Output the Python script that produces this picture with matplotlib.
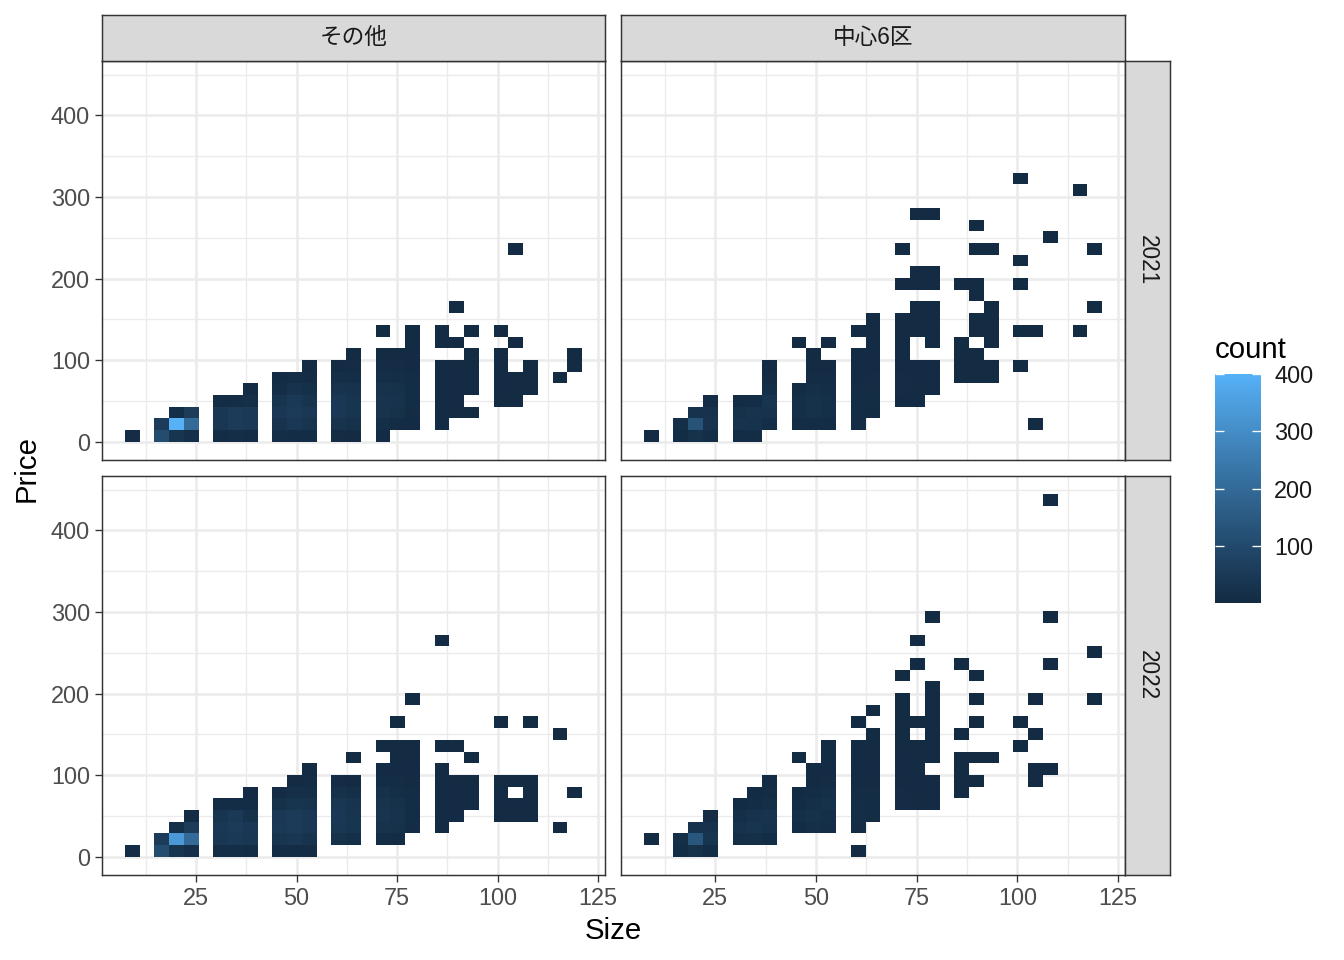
import numpy as np
import matplotlib
matplotlib.use("Agg")
import matplotlib.pyplot as plt
from matplotlib.colors import ListedColormap, Normalize, to_rgb

plt.rcParams['font.family'] = ['Liberation Sans', 'Noto Sans CJK JP', 'DejaVu Sans']

# ---------------- data ----------------
SIZE_RANGE = (10, 120)     # range of Size in the data
PRICE_RANGE = (10, 440)    # range of Price in the data
N_BINS = 30                # ggplot geom_bin2d default
COUNT_RANGE = (1, 400)

areas = ['その他', '中心6区']
years = ['2021', '2022']
x_ticks = [25, 50, 75, 100, 125]
y_ticks = [0, 100, 200, 300, 400]
count_ticks = [100, 200, 300, 400]

# tile counts: {Size bin index: [(Price bin index, count), ...]}
counts_other_2021 = {
    0: [(0, 6)],
    2: [(0, 110), (1, 60)],
    3: [(0, 35), (1, 400), (2, 12)],
    4: [(0, 15), (1, 200), (2, 60)],
    6: [(0, 10), (1, 40), (2, 40), (3, 6)],
    7: [(0, 12), (1, 55), (2, 55), (3, 10)],
    8: [(0, 10), (1, 50), (2, 50), (3, 15), (4, 3)],
    10: [(0, 12), (1, 30), (2, 45), (3, 35), (4, 12), (5, 4)],
    11: [(0, 10), (1, 45), (2, 55), (3, 50), (4, 25), (5, 6)],
    12: [(0, 10), (1, 35), (2, 45), (3, 35), (4, 18), (5, 8), (6, 3)],
    14: [(0, 8), (1, 30), (2, 45), (3, 45), (4, 30), (5, 15), (6, 5)],
    15: [(0, 5), (1, 20), (2, 35), (3, 35), (4, 25), (5, 12), (6, 6), (7, 2)],
    17: [(0, 3), (1, 15), (2, 30), (3, 30), (4, 25), (5, 15), (6, 6), (7, 2), (9, 1)],
    18: [(1, 8), (2, 20), (3, 25), (4, 20), (5, 12), (6, 6), (7, 2)],
    19: [(1, 4), (2, 8), (3, 10), (4, 10), (5, 8), (6, 4), (7, 3), (8, 1), (9, 1)],
    21: [(1, 2), (2, 3), (3, 4), (4, 5), (5, 4), (6, 3), (8, 1), (9, 1)],
    22: [(2, 2), (3, 3), (4, 4), (5, 3), (6, 2), (8, 1), (11, 1)],
    23: [(2, 1), (4, 3), (5, 3), (6, 2), (7, 2), (9, 1)],
    25: [(3, 2), (4, 3), (5, 3), (6, 2), (7, 1), (9, 1)],
    26: [(3, 1), (4, 2), (5, 2), (8, 1), (16, 1)],
    27: [(4, 1), (5, 2), (6, 1)],
    29: [(5, 1)],
    30: [(6, 1), (7, 1)],
}

counts_center_2021 = {
    0: [(0, 2)],
    2: [(0, 10), (1, 15)],
    3: [(0, 20), (1, 130), (2, 25)],
    4: [(0, 12), (1, 30), (2, 25), (3, 6)],
    6: [(0, 10), (1, 30), (2, 20), (3, 8)],
    7: [(0, 10), (1, 25), (2, 30), (3, 10)],
    8: [(1, 12), (2, 25), (3, 35), (4, 15), (5, 8), (6, 3)],
    10: [(1, 8), (2, 15), (3, 15), (4, 8), (8, 1)],
    11: [(1, 10), (2, 20), (3, 20), (4, 15), (5, 8), (6, 4), (7, 2)],
    12: [(1, 8), (2, 15), (3, 15), (4, 12), (5, 6), (6, 2), (8, 1)],
    14: [(1, 6), (2, 10), (3, 10), (4, 8), (5, 5), (6, 3), (7, 2), (9, 1)],
    15: [(2, 5), (3, 8), (4, 8), (5, 6), (6, 4), (7, 3), (8, 2), (9, 1), (10, 1)],
    17: [(3, 4), (4, 6), (5, 6), (6, 4), (7, 3), (8, 2), (9, 2), (10, 1), (13, 1), (16, 1)],
    18: [(3, 3), (4, 5), (5, 4), (6, 3), (9, 2), (10, 1), (11, 1), (13, 1), (14, 1), (19, 1)],
    19: [(4, 3), (5, 3), (6, 2), (8, 1), (9, 2), (10, 1), (11, 1), (13, 1), (14, 1), (19, 1)],
    21: [(5, 2), (6, 2), (7, 1), (8, 1), (13, 1)],
    22: [(5, 2), (6, 2), (7, 1), (9, 1), (10, 1), (12, 1), (13, 1), (16, 1), (18, 1)],
    23: [(5, 1), (6, 1), (8, 1), (9, 1), (10, 1), (11, 1), (16, 1)],
    25: [(6, 1), (9, 1), (13, 1), (15, 1), (22, 1)],
    26: [(1, 1), (9, 1)],
    27: [(17, 1)],
    29: [(9, 1), (21, 1)],
    30: [(11, 1), (16, 1)],
}

counts_other_2022 = {
    0: [(0, 6)],
    2: [(0, 110), (1, 60)],
    3: [(0, 35), (1, 330), (2, 15)],
    4: [(0, 15), (1, 200), (2, 60), (3, 5)],
    6: [(0, 12), (1, 40), (2, 45), (3, 35), (4, 6)],
    7: [(0, 12), (1, 50), (2, 55), (3, 50), (4, 10)],
    8: [(0, 10), (1, 40), (2, 45), (3, 20), (4, 10), (5, 3)],
    10: [(0, 10), (1, 35), (2, 50), (3, 45), (4, 20), (5, 6)],
    11: [(0, 10), (1, 40), (2, 55), (3, 55), (4, 35), (5, 15), (6, 5)],
    12: [(0, 8), (1, 30), (2, 45), (3, 45), (4, 30), (5, 15), (6, 6), (7, 2)],
    14: [(1, 20), (2, 40), (3, 45), (4, 40), (5, 20), (6, 6)],
    15: [(1, 15), (2, 35), (3, 35), (4, 30), (5, 15), (6, 5), (8, 1)],
    17: [(1, 10), (2, 25), (3, 35), (4, 30), (5, 20), (6, 10), (7, 4), (9, 2)],
    18: [(1, 6), (2, 20), (3, 25), (4, 20), (5, 12), (6, 6), (7, 3), (8, 2), (9, 1), (11, 1)],
    19: [(2, 6), (3, 10), (4, 10), (5, 8), (6, 5), (7, 3), (8, 2), (9, 1), (13, 1)],
    21: [(2, 2), (3, 4), (4, 5), (5, 4), (6, 3), (7, 2), (9, 1), (18, 1)],
    22: [(3, 3), (4, 4), (5, 3), (6, 2), (9, 1)],
    23: [(4, 3), (5, 3), (6, 2), (8, 1)],
    25: [(3, 2), (4, 3), (5, 3), (6, 2), (11, 1)],
    26: [(3, 2), (4, 2), (6, 2)],
    27: [(3, 2), (4, 3), (5, 2), (6, 1), (11, 1)],
    29: [(2, 1), (10, 1)],
    30: [(5, 1)],
}

counts_center_2022 = {
    0: [(1, 2)],
    2: [(0, 10), (1, 15)],
    3: [(0, 20), (1, 140), (2, 25)],
    4: [(0, 10), (1, 35), (2, 25), (3, 8)],
    6: [(1, 15), (2, 25), (3, 15), (4, 5)],
    7: [(1, 15), (2, 35), (3, 25), (4, 10), (5, 3)],
    8: [(1, 10), (2, 25), (3, 30), (4, 15), (5, 8), (6, 3)],
    10: [(2, 10), (3, 15), (4, 10), (5, 5), (8, 1)],
    11: [(2, 15), (3, 20), (4, 15), (5, 10), (6, 5), (7, 2)],
    12: [(2, 12), (3, 15), (4, 20), (5, 15), (6, 8), (7, 4), (8, 2), (9, 1)],
    14: [(0, 1), (2, 8), (3, 12), (4, 12), (5, 8), (6, 5), (7, 3), (8, 2), (9, 1), (11, 1)],
    15: [(3, 8), (4, 10), (5, 8), (6, 5), (7, 3), (8, 2), (9, 1), (10, 1), (12, 1)],
    17: [(4, 6), (5, 6), (6, 5), (7, 4), (8, 3), (9, 2), (10, 2), (11, 1), (12, 1), (13, 1), (15, 1)],
    18: [(4, 5), (5, 5), (6, 3), (7, 2), (8, 2), (9, 1), (11, 1), (16, 1), (18, 1)],
    19: [(4, 3), (5, 3), (6, 2), (8, 2), (9, 1), (10, 1), (11, 1), (12, 1), (13, 1), (14, 1), (20, 1)],
    21: [(5, 2), (6, 2), (7, 1), (8, 1), (10, 1), (16, 1)],
    22: [(6, 1), (8, 1), (11, 1), (13, 1), (15, 1)],
    23: [(8, 1)],
    25: [(9, 1), (11, 1)],
    26: [(6, 1), (7, 1), (10, 1), (13, 1)],
    27: [(7, 1), (16, 1), (20, 1), (30, 1)],
    30: [(13, 1), (17, 1)],
}

panel_counts = {
    ('その他', '2021'): counts_other_2021,
    ('中心6区', '2021'): counts_center_2021,
    ('その他', '2022'): counts_other_2022,
    ('中心6区', '2022'): counts_center_2022,
}

# ---------------- helpers ----------------
def gg_breaks(rng, bins):
    w = (rng[1] - rng[0]) / bins
    origin = np.floor(rng[0] / w) * w
    n = int(np.floor((rng[1] + w - origin) / w + 1e-9)) + 1
    br = origin + w * np.arange(n)
    if len(br) > 1 and br[-2] >= rng[1]:
        br = br[:-1]
    return br

def expand(br, mult=0.05):
    d = br[-1] - br[0]
    return br[0] - mult * d, br[-1] + mult * d

def srgb_to_lab(c):
    rgb = np.array(to_rgb(c))
    lin = np.where(rgb <= 0.04045, rgb / 12.92, ((rgb + 0.055) / 1.055) ** 2.4)
    M = np.array([[0.4124564, 0.3575761, 0.1804375],
                  [0.2126729, 0.7151522, 0.0721750],
                  [0.0193339, 0.1191920, 0.9503041]])
    t = (M @ lin) / np.array([0.95047, 1.0, 1.08883])
    d = 6 / 29
    f = np.where(t > d ** 3, np.cbrt(t), t / (3 * d * d) + 4 / 29)
    return np.array([116 * f[1] - 16, 500 * (f[0] - f[1]), 200 * (f[1] - f[2])])

def lab_to_srgb(lab):
    L, a, b = lab
    fy = (L + 16) / 116
    fx = fy + a / 500
    fz = fy - b / 200
    d = 6 / 29
    f = np.array([fx, fy, fz])
    t = np.where(f > d, f ** 3, 3 * d * d * (f - 4 / 29))
    xyz = t * np.array([0.95047, 1.0, 1.08883])
    Minv = np.array([[3.2404542, -1.5371385, -0.4985314],
                     [-0.9692660, 1.8760108, 0.0415560],
                     [0.0556434, -0.2040259, 1.0572252]])
    lin = Minv @ xyz
    lin = np.clip(lin, 0, 1)
    rgb = np.where(lin <= 0.0031308, 12.92 * lin, 1.055 * lin ** (1 / 2.4) - 0.055)
    return np.clip(rgb, 0, 1)

lab_lo, lab_hi = srgb_to_lab('#132B43'), srgb_to_lab('#56B1F7')
cmap = ListedColormap([lab_to_srgb(lab_lo + (lab_hi - lab_lo) * s)
                       for s in np.linspace(0, 1, 256)])
norm = Normalize(vmin=COUNT_RANGE[0], vmax=COUNT_RANGE[1])

xe = gg_breaks(SIZE_RANGE, N_BINS)
ye = gg_breaks(PRICE_RANGE, N_BINS)
xlim = expand(xe)
ylim = expand(ye)

def to_grid(d):
    C = np.zeros((len(ye) - 1, len(xe) - 1))
    for k, lst in d.items():
        for j, c in lst:
            C[j, k] = c
    return np.ma.masked_equal(C, 0)

# ---------------- figure ----------------
W, H = 1344, 960
fig = plt.figure(figsize=(W / 96, H / 96), dpi=96)
fig.patch.set_facecolor('white')

def px_axes(x0, y0, x1, y1):
    return fig.add_axes([x0 / W, 1 - y1 / H, (x1 - x0) / W, (y1 - y0) / H])

col_px = [(102, 605), (621, 1125)]
row_px = [(61, 460), (476, 875)]
BORDER = '#333333'
TICK_FS = 17.6

mesh = None
for ci, area in enumerate(areas):
    for ri, year in enumerate(years):
        x0, x1 = col_px[ci]
        y0, y1 = row_px[ri]
        ax = px_axes(x0, y0, x1, y1)
        ax.set_facecolor('white')
        mesh = ax.pcolormesh(xe, ye, to_grid(panel_counts[(area, year)]),
                             cmap=cmap, norm=norm, shading='flat',
                             edgecolors='none', antialiased=False)
        ax.set_xlim(*xlim)
        ax.set_ylim(*ylim)
        ax.set_xticks(x_ticks)
        ax.set_yticks(y_ticks)
        ax.set_xticks([t - 12.5 for t in x_ticks], minor=True)
        ax.set_yticks([t + 50 for t in y_ticks], minor=True)
        ax.set_axisbelow(True)
        ax.grid(which='major', color='#EBEBEB', linewidth=1.9)
        ax.grid(which='minor', color='#EBEBEB', linewidth=1.0)
        for s in ax.spines.values():
            s.set_color(BORDER)
            s.set_linewidth(1.1)
        ax.tick_params(which='minor', length=0)
        ax.tick_params(which='major', length=5.5, width=1.0, color=BORDER,
                       labelcolor='#4D4D4D', labelsize=TICK_FS, pad=3.5)
        ax.tick_params(axis='x', bottom=(ri == 1), labelbottom=(ri == 1))
        ax.tick_params(axis='y', left=(ci == 0), labelleft=(ci == 0))
        ax.set_xticklabels([str(t) for t in x_ticks])
        ax.set_yticklabels([str(t) for t in y_ticks])

STRIP_BG = '#D9D9D9'

def strip(x0, y0, x1, y1, text, rot):
    sa = px_axes(x0, y0, x1, y1)
    sa.set_facecolor(STRIP_BG)
    sa.set_xticks([])
    sa.set_yticks([])
    for s in sa.spines.values():
        s.set_color(BORDER)
        s.set_linewidth(1.1)
    sa.text(0.5, 0.5, text, transform=sa.transAxes, ha='center', va='center',
            rotation=rot, fontsize=17, color='#1A1A1A')

for ci, area in enumerate(areas):
    strip(col_px[ci][0], 15, col_px[ci][1], 61, area, 0)
for ri, year in enumerate(years):
    strip(1125, row_px[ri][0], 1170, row_px[ri][1], year, 270)

fig.text(613 / W, 1 - 931 / H, 'Size', ha='center', va='center', fontsize=22)
fig.text(27 / W, 1 - 468 / H, 'Price', ha='center', va='center',
         rotation=90, fontsize=22)

# colour bar
cax = px_axes(1215, 374, 1261, 603)
cb = fig.colorbar(mesh, cax=cax, ticks=count_ticks)
cb.outline.set_visible(False)
cax.tick_params(which='major', left=True, right=True, direction='in',
                length=7, width=1.0, color='white', labelleft=False,
                labelright=True, labelsize=TICK_FS, labelcolor='#1A1A1A', pad=10)
cax.tick_params(which='minor', length=0)
cax.set_yticklabels([str(t) for t in count_ticks])
fig.text(1215 / W, 1 - 358 / H, 'count', ha='left', va='baseline', fontsize=22)

fig.savefig('out.png', dpi=96, facecolor='white')
